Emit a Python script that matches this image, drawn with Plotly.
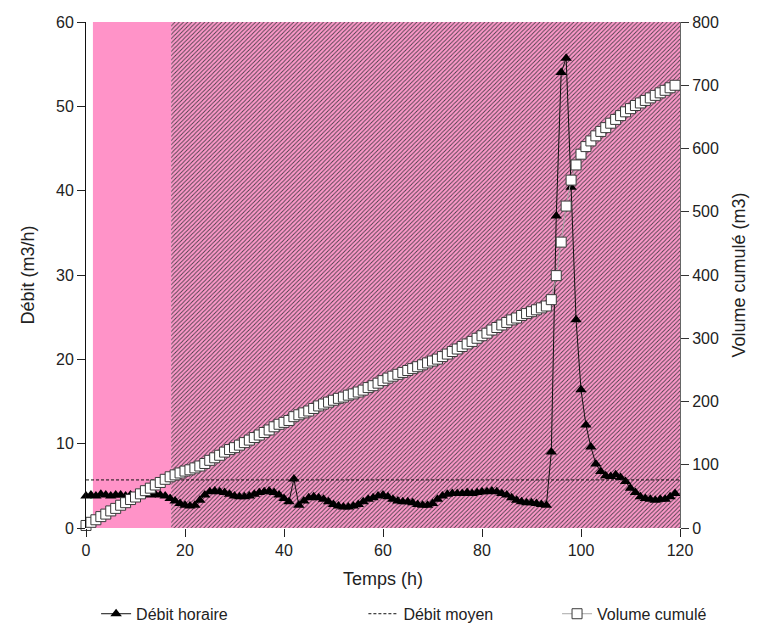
import plotly.graph_objects as go

# ---------------- data ----------------
temps = list(range(0, 120))  # h

debit_horaire = [
    3.8, 3.9, 3.8, 4.0, 3.9, 3.8, 3.9, 3.9, 3.8, 3.9,
    3.8, 3.9, 4.0, 3.9, 4.0, 3.9, 3.8, 3.5, 3.2, 2.9,
    2.7, 2.6, 2.7, 3.3, 3.9, 4.3, 4.4, 4.3, 4.2, 4.0,
    3.8, 3.7, 3.7, 3.8, 4.0, 4.2, 4.3, 4.4, 4.2, 3.9,
    3.5, 3.1, 5.8, 2.7, 3.2, 3.6, 3.7, 3.6, 3.4, 3.1,
    2.8, 2.6, 2.5, 2.5, 2.6, 2.8, 3.1, 3.4, 3.6, 3.8,
    3.9, 3.7, 3.4, 3.2, 3.1, 3.1, 3.0, 2.8, 2.7, 2.7,
    2.9, 3.4, 3.8, 4.0, 4.1, 4.1, 4.1, 4.2, 4.1, 4.2,
    4.3, 4.3, 4.4, 4.3, 4.1, 3.9, 3.6, 3.3, 3.1, 3.0,
    3.0, 2.9, 2.8, 2.7, 9.0, 37.0, 54.0, 55.7, 40.4, 24.7,
    16.4, 12.2, 9.6, 7.6, 6.7, 6.2, 6.1, 6.3, 6.0, 5.5,
    4.7, 4.2, 3.7, 3.5, 3.4, 3.3, 3.4, 3.4, 3.7, 4.1,
]

volume_cumule = [
    4, 9, 13, 18, 22, 27, 31, 36, 40, 45,
    49, 54, 59, 63, 68, 72, 77, 81, 84, 87,
    90, 92, 95, 98, 102, 107, 111, 115, 120, 124,
    127, 131, 135, 139, 143, 147, 151, 155, 160, 164,
    167, 170, 176, 179, 182, 185, 189, 193, 196, 199,
    202, 205, 207, 210, 212, 215, 218, 222, 225, 229,
    233, 237, 240, 243, 246, 249, 252, 255, 258, 261,
    264, 267, 271, 275, 279, 283, 287, 291, 295, 300,
    304, 308, 313, 317, 321, 325, 329, 332, 336, 339,
    342, 345, 348, 351, 361, 399, 452, 509, 550, 574,
    591, 603, 612, 620, 627, 633, 640, 646, 652, 658,
    663, 668, 672, 676, 680, 684, 688, 692, 696, 700,
]

debit_moyen = 5.7
debit_moyen_temps = [0, 120]

periode_rose = [1.4, 17.2]
periode_hachuree = [17.2, 120]
debit_max_axe = 60

x_ticks = [0, 20, 40, 60, 80, 100, 120]
y_ticks = [0, 10, 20, 30, 40, 50, 60]
y2_ticks = [0, 100, 200, 300, 400, 500, 600, 700, 800]

PINK = "#ff93c8"
FONT = "Liberation Sans"

fig = go.Figure()

# pink period
fig.add_trace(go.Scatter(
    x=[periode_rose[0], periode_rose[1], periode_rose[1], periode_rose[0], periode_rose[0]],
    y=[0, 0, debit_max_axe, debit_max_axe, 0],
    fill="toself", fillcolor=PINK, mode="none",
    showlegend=False, hoverinfo="skip",
))
# hatched period
fig.add_trace(go.Scatter(
    x=[periode_hachuree[0], periode_hachuree[1], periode_hachuree[1], periode_hachuree[0], periode_hachuree[0]],
    y=[0, 0, debit_max_axe, debit_max_axe, 0],
    fill="toself", mode="none",
    fillpattern=dict(shape="/", bgcolor="#ff9acb", fgcolor="#4a3e48", size=3, solidity=0.3, fillmode="replace"),
    showlegend=False, hoverinfo="skip",
))

fig.add_trace(go.Scatter(
    x=temps, y=debit_horaire, name="Débit horaire", mode="lines+markers",
    line=dict(color="#111111", width=1),
    marker=dict(symbol="triangle-up", size=10, color="#000000"),
    cliponaxis=False, legend="legend",
))
fig.add_trace(go.Scatter(
    x=debit_moyen_temps, y=[debit_moyen, debit_moyen], name="Débit moyen", mode="lines",
    line=dict(color="#111111", width=1, dash="3px,2px"),
    legend="legend2",
))
fig.add_trace(go.Scatter(
    x=temps, y=volume_cumule, name="Volume cumulé", mode="lines+markers",
    yaxis="y2",
    line=dict(color="#a8a8a8", width=1),
    marker=dict(symbol="square", size=10, color="#ffffff", line=dict(color="#3a3a3a", width=1)),
    cliponaxis=False, legend="legend3",
))

legend_common = dict(orientation="h", yref="container", yanchor="middle", y=0.021, xanchor="left",
                     font=dict(family=FONT, size=16, color="#222222"), bgcolor="rgba(0,0,0,0)")

fig.update_layout(
    width=766, height=627,
    margin=dict(l=86, r=86, t=22, b=99, autoexpand=False),
    paper_bgcolor="white", plot_bgcolor="white",
    font=dict(family=FONT, size=16, color="#222222"),
    xaxis=dict(
        range=[0, 120], tickvals=x_ticks, showgrid=False, zeroline=False,
        showline=False, ticks="outside", ticklen=8, tickcolor="#222222",
        title=dict(text="Temps (h)", font=dict(size=18), standoff=14),
        tickfont=dict(size=16),
    ),
    yaxis=dict(
        range=[0, 60], tickvals=y_ticks, showgrid=False, zeroline=False,
        showline=True, linecolor="#111111", linewidth=1,
        ticks="outside", ticklen=8, tickcolor="#222222",
        title=dict(text="Débit (m3/h)", font=dict(size=18), standoff=16),
        tickfont=dict(size=16),
    ),
    yaxis2=dict(
        range=[0, 800], tickvals=y2_ticks, overlaying="y", side="right",
        showgrid=False, zeroline=False,
        showline=True, linecolor="#666666", linewidth=1,
        ticks="outside", ticklen=8, tickcolor="#333333",
        title=dict(text="Volume cumulé (m3)", font=dict(size=18), standoff=14),
        tickfont=dict(size=16),
    ),
    legend=dict(x=0.017, **legend_common),
    legend2=dict(x=0.467, **legend_common),
    legend3=dict(x=0.793, **legend_common),
)

fig.write_html("out.html")
